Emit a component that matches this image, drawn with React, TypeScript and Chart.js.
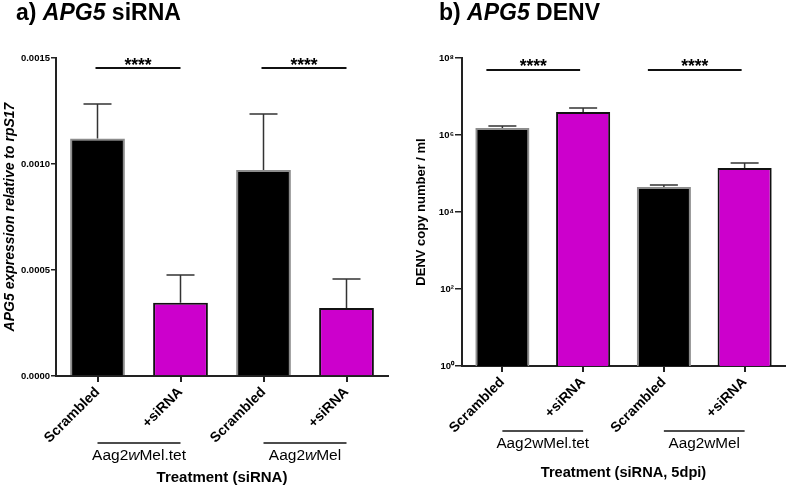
import React, { useEffect, useRef } from 'react';
import { Chart, registerables } from 'chart.js';

Chart.register(...registerables);

const FONT = '"Liberation Sans", Arial, Helvetica, sans-serif';

// ---- data ----
const categories = ['Scrambled', '+siRNA', 'Scrambled', '+siRNA'];
const barFill = ['#000000', '#cc00cc', '#000000', '#cc00cc'];
const barEdge = ['#8c8c8c', '#111111', '#8c8c8c', '#111111'];

const apg5Means = [0.00112, 0.000345, 0.000972, 0.000321];
const apg5Upper = [0.001283, 0.000476, 0.001236, 0.000458];
const apg5Ticks = [0, 0.0005, 0.001, 0.0015];

const denvMeans = [1.52e6, 3.96e6, 4.47e4, 1.39e5];
const denvUpper = [1.72e6, 5.0e6, 5.0e4, 1.87e5];
const denvTicks = [1, 1e2, 1e4, 1e6, 1e8];

const sigPairs: [number, number][] = [[0, 1], [2, 3]];
const sigLabel = '****';

type Seg = { t: string; italic?: boolean };

const groupLabelsA: Seg[][] = [
  [{ t: 'Aag2' }, { t: 'w', italic: true }, { t: 'Mel.tet' }],
  [{ t: 'Aag2' }, { t: 'w', italic: true }, { t: 'Mel' }],
];
const groupLabelsB: Seg[][] = [[{ t: 'Aag2wMel.tet' }], [{ t: 'Aag2wMel' }]];

const titleA: Seg[] = [{ t: 'a) ' }, { t: 'APG5', italic: true }, { t: ' siRNA' }];
const titleB: Seg[] = [{ t: 'b) ' }, { t: 'APG5', italic: true }, { t: ' DENV' }];

const SUP = ['⁰', '¹', '²', '³', '⁴', '⁵', '⁶', '⁷', '⁸', '⁹'];

interface PanelCfg {
  width: number;
  left: number;
  padRight: number;
  yWidth: number;
  xHeight: number;
  log: boolean;
  means: number[];
  upper: number[];
  ticks: number[];
  yTitle: string;
  yTitleItalic: boolean;
  yTitleSize: number;
  yTitlePad: number;
  yTickLen: number;
  xTitle: string;
  xTitleSize: number;
  xTitlePad: number;
  barPct: number;
  title: Seg[];
  titleX: number;
  groups: Seg[][];
  groupLineY: number;
  groupTextY: number;
  groupSize: number;
  sigY: number;
  sigStarY: number;
  sigOffL: number;
  sigOffR: number;
}

function drawSegs(
  ctx: CanvasRenderingContext2D,
  segs: Seg[],
  x: number,
  y: number,
  size: number,
  weight: string,
  center: boolean
) {
  const fonts = segs.map((s) => `${s.italic ? 'italic ' : ''}${weight} ${size}px ${FONT}`);
  const widths = segs.map((s, i) => {
    ctx.font = fonts[i];
    return ctx.measureText(s.t).width;
  });
  const total = widths.reduce((a, b) => a + b, 0);
  let cx = center ? x - total / 2 : x;
  ctx.textAlign = 'left';
  ctx.textBaseline = 'alphabetic';
  segs.forEach((s, i) => {
    ctx.font = fonts[i];
    ctx.fillText(s.t, cx, y);
    cx += widths[i];
  });
}

function makePlugin(cfg: PanelCfg) {
  return {
    id: 'panelDecor',
    afterDatasetsDraw(chart: any) {
      const ctx: CanvasRenderingContext2D = chart.ctx;
      const yScale = chart.scales.y;
      const meta = chart.getDatasetMeta(0);
      ctx.save();
      ctx.strokeStyle = '#333';
      ctx.lineWidth = 1.5;
      meta.data.forEach((el: any, i: number) => {
        const yt = yScale.getPixelForValue(cfg.upper[i]);
        ctx.beginPath();
        ctx.moveTo(el.x, el.y);
        ctx.lineTo(el.x, yt);
        ctx.moveTo(el.x - 14, yt);
        ctx.lineTo(el.x + 14, yt);
        ctx.stroke();
      });
      ctx.restore();
    },
    afterDraw(chart: any) {
      const ctx: CanvasRenderingContext2D = chart.ctx;
      const xScale = chart.scales.x;
      ctx.save();
      ctx.fillStyle = '#000';
      // title
      drawSegs(ctx, cfg.title, cfg.titleX, 20, 23, 'bold', false);
      // significance bars
      sigPairs.forEach(([a, b]) => {
        const x0 = xScale.getPixelForValue(a) + cfg.sigOffL;
        const x1 = xScale.getPixelForValue(b) + cfg.sigOffR;
        ctx.strokeStyle = '#111';
        ctx.lineWidth = 2;
        ctx.beginPath();
        ctx.moveTo(x0, cfg.sigY);
        ctx.lineTo(x1, cfg.sigY);
        ctx.stroke();
        ctx.font = `bold 17.5px ${FONT}`;
        ctx.textAlign = 'center';
        ctx.textBaseline = 'alphabetic';
        ctx.fillText(sigLabel, (x0 + x1) / 2, cfg.sigStarY);
      });
      // group labels
      sigPairs.forEach(([a, b], gi) => {
        const x0 = xScale.getPixelForValue(a);
        const x1 = xScale.getPixelForValue(b);
        ctx.strokeStyle = '#111';
        ctx.lineWidth = 1.5;
        ctx.beginPath();
        ctx.moveTo(x0, cfg.groupLineY);
        ctx.lineTo(x1, cfg.groupLineY);
        ctx.stroke();
        drawSegs(ctx, cfg.groups[gi], (x0 + x1) / 2, cfg.groupTextY, cfg.groupSize, 'normal', true);
      });
      ctx.restore();
    },
  };
}

function buildConfig(cfg: PanelCfg): any {
  const yScale: any = cfg.log
    ? {
        type: 'logarithmic',
        min: cfg.ticks[0],
        max: cfg.ticks[cfg.ticks.length - 1],
        afterBuildTicks: (axis: any) => {
          axis.ticks = cfg.ticks.map((v) => ({ value: v }));
        },
        ticks: {
          color: '#000',
          padding: 1,
          font: { family: FONT, size: 9.5, weight: 'bold' },
          callback: (v: any) => '10' + SUP[Math.round(Math.log10(Number(v)))],
        },
      }
    : {
        type: 'linear',
        min: cfg.ticks[0],
        max: cfg.ticks[cfg.ticks.length - 1],
        afterBuildTicks: (axis: any) => {
          axis.ticks = cfg.ticks.map((v) => ({ value: v }));
        },
        ticks: {
          color: '#000',
          padding: 1,
          font: { family: FONT, size: 9.5, weight: 'bold' },
          callback: (v: any) => Number(v).toFixed(4),
        },
      };
  Object.assign(yScale, {
    position: 'left',
    grid: {
      display: true,
      drawOnChartArea: false,
      drawTicks: true,
      tickLength: cfg.yTickLen,
      color: '#222',
      lineWidth: 1.5,
    },
    border: { display: true, color: '#222', width: 2 },
    title: {
      display: true,
      text: cfg.yTitle,
      color: '#000',
      font: {
        family: FONT,
        size: cfg.yTitleSize,
        weight: 'bold',
        style: cfg.yTitleItalic ? 'italic' : 'normal',
      },
      padding: { top: cfg.yTitlePad, bottom: 0 },
    },
    afterFit: (s: any) => {
      s.width = cfg.yWidth;
    },
  });

  return {
    type: 'bar',
    data: {
      labels: categories,
      datasets: [
        {
          data: cfg.means,
          backgroundColor: barFill,
          borderColor: barEdge,
          borderWidth: 2,
          borderSkipped: 'start',
          barPercentage: cfg.barPct,
          categoryPercentage: 1,
        },
      ],
    },
    options: {
      responsive: false,
      animation: false,
      devicePixelRatio: 1,
      layout: { padding: { left: 0, right: cfg.padRight, top: 58, bottom: 0 } },
      plugins: {
        legend: { display: false },
        tooltip: { enabled: false },
        title: { display: false },
      },
      scales: {
        x: {
          type: 'category',
          offset: true,
          grid: {
            display: true,
            drawOnChartArea: false,
            drawTicks: true,
            tickLength: 6,
            offset: false,
            color: '#222',
            lineWidth: 2,
          },
          border: { display: true, color: '#222', width: 2 },
          ticks: {
            color: '#000',
            autoSkip: false,
            maxRotation: 45,
            minRotation: 45,
            padding: 2,
            font: { family: FONT, size: 14, weight: 'bold' },
          },
          title: {
            display: true,
            text: cfg.xTitle,
            color: '#000',
            font: { family: FONT, size: cfg.xTitleSize, weight: 'bold' },
            padding: { top: 0, bottom: cfg.xTitlePad },
          },
          afterFit: (s: any) => {
            s.height = cfg.xHeight;
          },
        },
        y: yScale,
      },
    },
    plugins: [makePlugin(cfg)],
  };
}

const panelA: PanelCfg = {
  width: 400,
  left: 0,
  padRight: 12,
  yWidth: 56,
  xHeight: 114,
  log: false,
  means: apg5Means,
  upper: apg5Upper,
  ticks: apg5Ticks,
  yTitle: 'APG5 expression relative to rpS17',
  yTitleItalic: true,
  yTitleSize: 14,
  yTitlePad: 2,
  yTickLen: 5,
  xTitle: 'Treatment (siRNA)',
  xTitleSize: 15,
  xTitlePad: 3,
  barPct: 0.66,
  title: titleA,
  titleX: 16,
  groups: groupLabelsA,
  groupLineY: 443,
  groupTextY: 460,
  groupSize: 15.5,
  sigY: 68,
  sigStarY: 71,
  sigOffL: -2,
  sigOffR: 0,
};

const panelB: PanelCfg = {
  width: 387,
  left: 400,
  padRight: 2,
  yWidth: 62,
  xHeight: 124,
  log: true,
  means: denvMeans,
  upper: denvUpper,
  ticks: denvTicks,
  yTitle: 'DENV copy number / ml',
  yTitleItalic: false,
  yTitleSize: 13,
  yTitlePad: 14,
  yTickLen: 7,
  xTitle: 'Treatment (siRNA, 5dpi)',
  xTitleSize: 14.6,
  xTitlePad: 8,
  barPct: 0.67,
  title: titleB,
  titleX: 39,
  groups: groupLabelsB,
  groupLineY: 431,
  groupTextY: 448,
  groupSize: 15.3,
  sigY: 70,
  sigStarY: 72,
  sigOffL: -16,
  sigOffR: -3,
};

function Panel({ cfg }: { cfg: PanelCfg }) {
  const ref = useRef<HTMLCanvasElement>(null);
  useEffect(() => {
    const chart = new Chart(ref.current as HTMLCanvasElement, buildConfig(cfg));
    return () => chart.destroy();
  }, [cfg]);
  return (
    <canvas
      ref={ref}
      width={cfg.width}
      height={490}
      style={{ position: 'absolute', left: cfg.left, top: 0, width: cfg.width, height: 490 }}
    />
  );
}

export default function App() {
  return (
    <div style={{ position: 'fixed', left: 0, top: 0, width: 787, height: 490, background: '#fff' }}>
      <Panel cfg={panelA} />
      <Panel cfg={panelB} />
    </div>
  );
}
